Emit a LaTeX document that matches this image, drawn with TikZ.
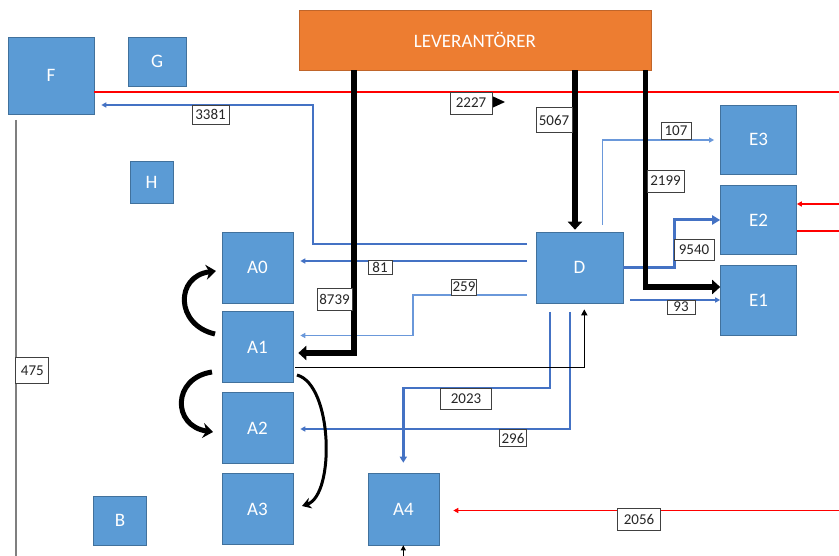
\documentclass[tikz,border=0pt]{standalone}
\usepackage{fontspec}
\setmainfont{Carlito}
\usetikzlibrary{arrows.meta}
\definecolor{boxblue}{HTML}{5B9BD5}
\definecolor{boxedge}{HTML}{41719C}
\definecolor{levfill}{HTML}{ED7D31}
\definecolor{levedge}{HTML}{C0652A}
\definecolor{lineblue}{HTML}{4472C4}
\definecolor{lightblue}{HTML}{6A98DA}
\definecolor{linegray}{HTML}{7F7F7F}
\definecolor{lblgray}{HTML}{404040}
\begin{document}
\begin{tikzpicture}[x=1pt,y=-1pt,
  box/.style={fill=boxblue,draw=boxedge,line width=0.6pt,text=white,
    font=\fontsize{19}{19}\selectfont,inner sep=0pt},
  lbl/.style={fill=white,draw=lblgray,line width=0.9pt,text=black!85,
    font=\fontsize{15}{15}\selectfont,inner sep=0pt},
  thickblk/.style={line width=5.5pt,-{Triangle[length=8pt,width=14pt]}},
  blu/.style={draw=lineblue,line width=1.4pt,-{Triangle[length=5pt,width=5pt]}},
  lblu/.style={draw=lightblue,line width=1.4pt,-{Triangle[length=5pt,width=5pt]}},
  redl/.style={draw=red,line width=1.5pt},
  curv/.style={line width=5pt,-{Stealth[length=10pt,width=15pt]}}]
\useasboundingbox (0,0) rectangle (839,556);

% boxes
\node[box,minimum width=86pt,minimum height=77pt] (F) at (51,75.5) {F};
\node[box,minimum width=58pt,minimum height=49pt] (G) at (157,61.5) {G};
\node[box,minimum width=43pt,minimum height=42pt] (H) at (151.5,182) {H};
\node[box,fill=levfill,draw=levedge,minimum width=352pt,minimum height=60pt] (LEV) at (475,40) {LEVERANTÖRER};
\node[box,minimum width=71pt,minimum height=71pt] (A0) at (257.5,267.5) {A0};
\node[box,minimum width=71pt,minimum height=71pt] (A1) at (257.5,347) {A1};
\node[box,minimum width=71pt,minimum height=71pt] (A2) at (257.5,428) {A2};
\node[box,minimum width=71pt,minimum height=71pt] (A3) at (257.5,509) {A3};
\node[box,minimum width=71pt,minimum height=72pt] (A4) at (403.5,509) {A4};
\node[box,minimum width=87pt,minimum height=71pt] (D) at (579.5,267.5) {D};
\node[box,minimum width=76pt,minimum height=69pt] (E3) at (758.5,139.5) {E3};
\node[box,minimum width=76pt,minimum height=69pt] (E2) at (758.5,220) {E2};
\node[box,minimum width=76pt,minimum height=70pt] (E1) at (758.5,300.5) {E1};
\node[box,minimum width=53pt,minimum height=49pt] (B) at (120,520.5) {B};

% free ends
\coordinate (rTop) at (839,92);
\coordinate (s3381) at (527,244);
\coordinate (s107) at (602.7,225);
\coordinate (s93) at (630,300);
\coordinate (s81) at (527,261);
\coordinate (s259) at (527,295);
\coordinate (s2023) at (550,312);
\coordinate (s296) at (570,312);
\coordinate (rE2a) at (839,204);
\coordinate (rE2b) at (839,231);
\coordinate (r2056) at (839,510.5);
\coordinate (bA4) at (403.3,556);
\coordinate (g1) at (15.5,120);
\coordinate (g2) at (15.5,556);

% red lines
\draw[redl] (F.east |- rTop) -- (rTop);
\draw[redl,-{Triangle[length=5pt,width=5pt]}] (rE2a) -- (E2.east |- rE2a);
\draw[redl] (E2.east |- rE2b) -- (rE2b);
\draw[redl,-{Triangle[length=5pt,width=5pt]},shorten >=14pt] (r2056) -- (A4.east |- r2056);

% gray
\draw[draw=linegray,line width=2pt] (g1) -- (g2);

% blue lines
\draw[blu,shorten >=7pt] (s3381) -- (313,244) -- (313,105) -- (F.east |- 0,105);
\draw[lblu,shorten >=6pt] (s107) -- (602.7,140) -- (E3.west |- 0,140);
\draw[draw=lineblue,line width=3pt,-{Triangle[length=8pt,width=9pt]}] (D.east |- 0,268) -- (674,268) -- (674,220) -- (E2.west |- 0,220);
\draw[blu] (s93) -- (E1.west |- s93);
\draw[blu,shorten >=7pt] (s81) -- (A0.east |- s81);
\draw[lblu,shorten >=7pt] (s259) -- (413,295) -- (413,335.5) -- (A1.east |- 0,335.5);
\draw[draw=lineblue,line width=2.4pt,-{Triangle[length=6pt,width=7pt]},shorten >=10pt] (s2023) -- (550,388) -- (403.3,388) -- (A4.north -| 403.3,0);
\draw[blu,shorten >=7pt] (s296) -- (570,429) -- (A2.east |- 0,429);

% black lines
\draw[thickblk,shorten >=5pt] (LEV.south -| 354,0) -- (354,353) -- (A1.east |- 0,353);
\draw[thickblk,shorten >=2pt] (LEV.south -| 575,0) -- (D.north -| 575,0);
\draw[thickblk] (LEV.south -| 645.5,0) -- (645.5,287) -- (E1.west |- 0,287);
\draw[line width=1.5pt,-{Triangle[length=6pt,width=6pt]},shorten <=2pt,shorten >=6pt] (A1.east |- 0,367.3) -- (584.3,367.3) -- (D.south -| 584.3,0);
\draw[line width=1pt,-{Triangle[length=5pt,width=5pt]}] (bA4) -- (A4.south -| bA4);

% 2227 arrowhead
\fill (492,96) -- (505,102) -- (492,108) -- cycle;

% curved arrows
\draw[curv] (215,334) .. controls (175,325) and (175,276) .. (216,271);
\draw[curv] (212,372) .. controls (172,378) and (172,426) .. (213,432);
\draw[curv,line width=3pt,-{Stealth[length=9pt,width=11pt]}] (297,375) .. controls (333,385) and (335,495) .. (302,506);

% labels
\node[lbl,minimum width=37pt,minimum height=19pt] (l3381) at (210.5,114.5) {3381};
\node[lbl,minimum width=42pt,minimum height=22pt] (l2227) at (471,103) {2227};
\node[lbl,minimum width=35pt,minimum height=22pt] (l8739) at (334.5,299) {8739};
\node[lbl,minimum width=36pt,minimum height=25pt] (l5067) at (554,120) {5067};
\node[lbl,minimum width=37pt,minimum height=22pt] (l2199) at (665.5,181) {2199};
\node[lbl,minimum width=30pt,minimum height=17pt] (l107) at (676,130.5) {107};
\node[lbl,minimum width=40pt,minimum height=21pt] (l9540) at (694,250) {9540};
\node[lbl,minimum width=28pt,minimum height=14pt] (l93) at (681,307) {93};
\node[lbl,minimum width=24pt,minimum height=14pt] (l81) at (380,267.5) {81};
\node[lbl,minimum width=25pt,minimum height=16pt] (l259) at (464,287) {259};
\node[lbl,minimum width=51pt,minimum height=21pt] (l2023) at (466,399) {2023};
\node[lbl,minimum width=27pt,minimum height=17pt] (l296) at (513,438) {296};
\node[lbl,minimum width=43pt,minimum height=22pt] (l2056) at (639,519.5) {2056};
\node[lbl,minimum width=33pt,minimum height=26pt] (l475) at (32.3,370.3) {475};
\end{tikzpicture}
\end{document}
